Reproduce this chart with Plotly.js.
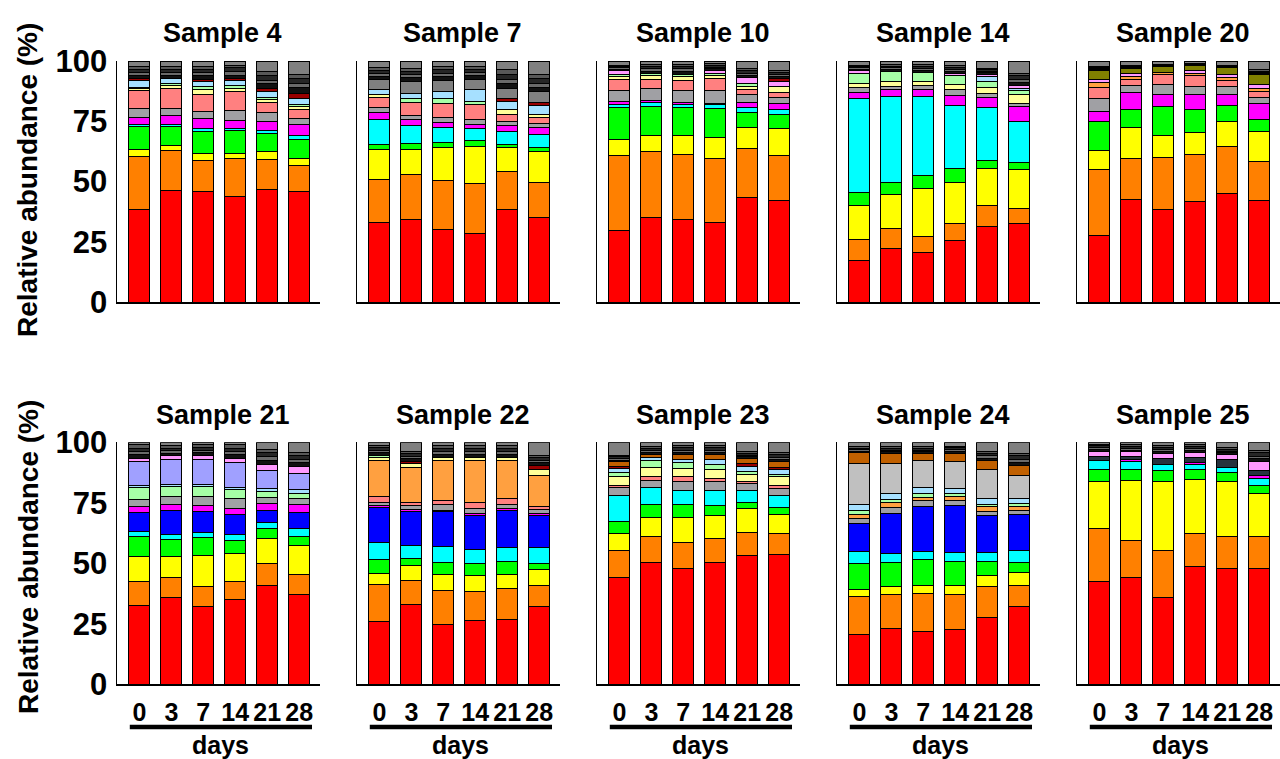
<!DOCTYPE html>
<html>
<head>
<meta charset="utf-8">
<script src="https://cdn.plot.ly/plotly-3.0.1.min.js"></script>
<style>html,body{margin:0;padding:0;background:#fff;}#chart{width:1280px;height:759px;}</style>
</head>
<body>
<div id="chart"></div>
<script>
// ---- categories ----
const days = ['0', '3', '7', '14', '21', '28'];
const samples = ['Sample 4', 'Sample 7', 'Sample 10', 'Sample 14', 'Sample 20',
                 'Sample 21', 'Sample 22', 'Sample 23', 'Sample 24', 'Sample 25'];

// ---- series values (% per bar; 6 days per sample, samples in order above) ----
const red = [38.4,46.3,45.9,43.8,46.8,45.9, 33.0,34.3,30.0,28.5,38.4,35.2, 29.6,35.1,34.4,33.1,43.5,42.3, 17.3,22.0,20.4,25.7,31.5,32.7, 27.5,42.4,38.3,41.6,44.9,42.3,
             32.6,36.0,32.1,35.1,41.0,36.9, 25.8,32.9,24.8,26.2,26.9,32.1, 44.1,50.3,47.9,50.3,53.3,53.7, 20.4,23.0,22.0,22.7,27.5,32.1, 42.3,44.1,35.8,48.6,47.9,47.9];
const orange = [22.1,16.4,12.9,15.7,12.5,10.7, 17.7,18.6,20.3,20.7,15.7,14.5, 31.0,27.3,26.6,26.6,20.0,18.5, 8.8,8.4,6.7,6.9,8.4,6.3, 27.3,17.0,21.6,19.4,19.6,16.0,
                9.8,8.2,8.3,7.3,9.0,8.6, 15.5,10.1,13.8,12.0,12.6,8.9, 11.3,10.6,10.6,9.9,9.6,8.6, 15.8,14.2,15.6,14.5,13.1,8.9, 22.2,15.5,19.6,13.8,13.1,13.1];
const yellow = [2.6,2.2,2.8,2.2,3.1,3.1, 12.6,10.5,13.8,15.2,10.0,12.7, 6.9,6.7,7.9,8.5,8.9,11.0, 14.0,14.1,19.9,17.1,15.6,16.1, 7.9,13.0,9.2,9.3,10.4,12.4,
                10.6,8.6,13.0,11.5,10.3,11.8, 4.6,6.2,6.9,6.6,6.0,6.5, 6.9,8.0,10.6,9.4,9.7,7.9, 2.8,3.2,3.3,3.8,4.2,5.1, 19.2,24.7,28.3,22.3,23.0,17.8];
const green = [9.7,7.9,9.3,9.4,7.6,7.8, 1.9,2.3,2.1,2.5,1.4,1.7, 13.2,12.0,11.9,12.2,6.3,6.1, 5.3,5.1,5.3,5.8,3.3,2.8, 12.2,7.3,12.0,9.7,6.6,5.1,
               8.0,7.1,7.2,5.7,4.2,3.7, 5.8,2.7,4.8,5.1,5.1,2.5, 4.8,5.2,5.0,4.4,2.7,2.8, 11.0,9.9,10.5,9.6,5.9,4.2, 5.1,4.5,4.5,3.9,3.5,3.2];
const cyan = [0.9,0.9,1.1,0.9,1.1,1.4, 10.6,7.4,6.2,4.9,5.2,5.5, 1.1,1.6,1.0,1.4,2.1,2.1, 39.1,35.6,32.9,26.0,22.0,17.0, 0,0,0,0,0,0,
              2.1,2.2,2.2,2.5,2.3,3.5, 6.8,5.5,6.6,5.9,5.9,6.5, 11.0,7.2,5.8,5.9,4.6,5.2, 4.7,3.8,3.4,3.8,3.7,4.8, 3.5,3.1,2.7,2.3,2.0,3.0];
const blue = [0,0,0,0,0,0, 0,0,0,0,0,0, 0,0,0,0,0,0, 0,0,0,0,0,0, 0,0,0,0,0,0,
              7.8,9.9,8.8,8.1,5.2,6.4, 14.5,14.2,14.3,13.8,15.5,13.1, 0,0,0,0,0,0, 11.8,16.6,18.5,19.3,15.2,15.1, 0,0,0,0,0,0];
const magenta = [3.0,3.8,4.0,3.3,3.8,4.6, 2.9,2.5,1.9,2.0,2.5,2.8, 1.3,1.0,0.9,0.7,1.9,2.2, 2.5,3.1,3.1,4.1,4.1,6.2, 4.1,7.2,5.1,5.9,4.7,6.7,
                 2.5,2.1,2.1,2.5,2.8,3.2, 0.7,0.7,0.8,1.0,0.6,1.1, 0,0,0,0,0,0, 0,0,0,0,0,0, 0,0.8,0,0.8,0,1.4];
const gray = [3.4,2.6,3.0,4.1,3.7,2.6, 2.1,1.7,2.2,2.0,1.9,1.8, 4.7,4.7,4.9,5.1,3.2,2.6, 1.9,1.1,1.5,2.4,1.7,1.4, 5.5,2.9,3.9,3.5,3.2,2.3,
              3.0,3.7,3.8,3.9,2.3,2.8, 1.6,1.4,2.1,2.0,1.8,1.6, 3.2,3.0,4.1,3.7,3.0,2.7, 2.0,2.3,2.5,2.3,2.0,1.8, 0,0,0,0,0,0];
const salmon = [7.5,8.6,6.9,7.9,4.1,3.6, 4.0,5.6,6.0,6.2,2.8,2.3, 4.6,4.1,4.5,5.2,2.1,2.2, 0,0,0,0,0,0, 4.6,2.7,4.4,4.5,2.7,2.5,
                0,0,0,0,0,0, 2.5,1.4,1.9,2.5,2.5,1.0, 0.9,1.4,1.7,1.4,0.8,1.1, 0,0,0,0,0,0, 0,0,0,0,0,0];
const lightOrange = [0,0,0,0,0,0, 0,0,0,0,0,0, 0,0,0,0,0,0, 0,0,0,0,0,0, 2.1,1.0,0.8,1.0,1.0,1.4,
                     0,0,0,0,0,0, 14.5,14.4,16.3,17.2,15.4,13.1, 0,0,0,0,0,0, 1.7,2.1,1.3,1.4,1.7,1.4, 0,0,0,0,0,0];
const lightYellow = [0.8,1.0,2.4,1.4,1.4,1.4, 1.1,0,0,0,1.8,1.4, 1.1,1.4,1.4,1.1,1.4,2.4, 1.8,2.0,1.9,2.3,2.5,3.4, 0,0,0,0,0,0,
                     0,0,0,0,0,0, 1.4,1.7,1.4,1.4,1.4,2.4, 3.6,3.8,3.4,3.8,2.8,3.8, 0,0,0,0,0,0, 0,0,0,0,0,0];
const lightGreen = [0.7,1.0,1.1,1.1,0.6,0.7, 0,1.6,2.0,1.4,0,0, 1.0,1.0,1.1,1.0,1.3,0, 4.2,4.2,3.6,3.6,2.6,1.7, 0,0,0,0,0,0,
                    5.0,3.9,4.2,4.0,2.5,2.0, 0.9,0,0,0,0,0, 1.7,2.8,2.5,2.1,1.4,1.0, 1.8,1.3,1.8,1.5,1.1,1.3, 0,0,0,0,0,0];
const lightBlue = [2.9,2.0,2.0,2.3,2.6,2.7, 2.1,2.1,2.8,4.6,3.4,3.6, 0,0,0,0,0,0, 0,0,0,0,1.8,1.1, 0,0,0,0,0,0,
                   0.7,0.7,0.7,0.7,1.4,1.4, 0,0,0,0,0,0, 1.8,1.4,1.4,2.1,2.3,2.0, 2.4,2.5,2.4,2.1,2.3,2.2, 0,0,0,0,0,0];
const slate = [0,0,0,0,0,0, 0,0,0,0,0,0, 0,0,0,0,0,0, 0,0,0,0,0,0, 0,0,0,0,0,0,
               0,0,0,0,0,0, 0,0,0,0,0,0, 0,0,0,0,0,0, 0,0,0,0,0,0, 1.8,1.4,2.3,1.9,3.2,1.8];
const lavender = [0,0,0,0,0,0, 0,0,0,0,0,0, 0,0,0,0,0,0, 0,0,0,0,0,0, 0,0,0,0,0,0,
                  9.8,10.3,10.3,10.3,7.3,6.9, 0,0,0,0,0,0, 0,0,0,0,0,0, 0,0,0,0,0,0, 0,0,0,0,0,0];
const pink = [0,0,0,0,0,0, 0,0,0,0,0,0, 1.4,0,0,1.0,2.4,2.3, 1.0,0,0,1.0,1.0,1.1, 1.0,1.4,0,1.0,1.4,1.6,
              1.5,1.7,1.7,1.8,2.6,3.0, 0,0,0,0,0,0, 0,0,0,0,0,0, 0,0,0,0,0,0, 2.3,1.9,2.1,2.1,2.3,3.7];
const silver = [0,0,0,0,0,0, 0,0,0,0,0,0, 0,0,0,0,0,0, 0,0,0,0,0,0, 0,0,0,0,0,0,
                0,0,0,0,0,0, 0,0,0,0,0,0, 0,0,0,0,0,0, 16.9,12.4,11.3,10.9,11.9,9.5, 0,0,0,0,0,0];
const darkRed = [0.7,0,1.0,0.5,1.4,2.1, 0,0,0,0,1.2,1.4, 0,0,0,0,0,1.1, 0,0,0,0,0,0, 0,0,0,0,0,0,
                 0,0,0,0,0,0, 0,0.7,0,0,0,1.7, 0.9,0,0,0,1.1,0.7, 0,0,0,0,0,0, 0,0,0,0,0,0];
const brown = [0,0,0,0,0,0, 0,0,0,0,0,0, 0,0,0,0,0,0, 0,0,0,0,0,0, 0,0,0,0,0,0,
               0,0,0,0,0,0, 0,0,0,0,0,0, 1.7,1.3,1.8,2.0,2.0,2.4, 4.4,4.2,2.9,3.4,3.7,4.1, 0,0,0,0,0,0];
const olive = [0,0,0,0,0,0, 0,0,0,0,0,0, 0,0,0,0,0,0, 0,0,0,0,0,0, 3.7,2.1,2.3,2.4,2.7,3.9,
               0,0,0,0,0,0, 0,0,0,0,0,0, 0,0,0,0,0,0, 0,0,0,0,0,0, 0,0,0,0,0,0];
const midGray = [0,0,0,0,0,0, 4.5,5.1,4.8,4.5,4.4,4.4, 0,0,0,0,0,0, 0,0,0,0,0,0, 0,0,0,0,0,0,
                 0,0,0,0,0,0, 0,0,0,0,0,0, 0,0,0,0,0,0, 0,0,0,0,0,0, 0,0,0,0,0,0];
const minor1 = [1.4,1.3,1.4,1.5,1.8,2.2, 1.2,1.4,1.5,1.4,2.0,1.9, 0.6,0.9,1.0,0.8,0.9,0.8, 0.6,0.8,0.8,0.9,0.7,1.4, 0.5,0.3,0.3,0.2,0.3,0.6,
                1.4,1.1,1.2,1.4,1.6,1.4, 1.1,1.2,1.3,1.3,1.3,1.1, 0.7,0.8,1.0,0.9,0.7,1.0, 0.6,0.7,0.7,0.8,1.1,1.3, 0.7,0.8,0.9,0.8,0.7,1.3];
const minor2 = [1.2,1.2,1.3,1.4,1.6,1.8, 1.1,1.2,1.3,1.2,1.7,1.6, 0.7,1.0,1.1,0.8,1.0,0.8, 0.6,0.7,0.9,0.8,0.6,1.2, 0.4,0.4,0.3,0.2,0.2,0.5,
                1.3,1.0,1.1,1.3,1.5,1.3, 1.0,1.1,1.2,1.2,1.2,1.0, 0.7,0.8,0.9,0.9,0.7,0.9, 0.6,0.6,0.6,0.8,1.0,1.2, 0.7,0.7,0.8,0.8,0.7,1.1];
const minor3 = [1.3,1.4,1.5,1.6,2.0,2.3, 1.3,1.5,1.6,1.5,2.2,2.1, 0.6,0.9,1.0,0.8,0.9,0.8, 0.7,0.8,0.8,0.9,0.7,1.4, 0.5,0.3,0.2,0.2,0.3,0.5,
                1.5,1.1,1.2,1.5,1.7,1.5, 1.1,1.2,1.4,1.4,1.4,1.1, 0.7,0.8,1.0,1.0,0.7,1.0, 0.7,0.7,0.7,0.8,1.1,1.4, 0.8,0.8,0.9,0.9,0.7,1.4];
const minor4 = [1.1,1.1,1.1,1.2,1.5,1.7, 1.1,1.2,1.2,1.1,1.7,1.6, 0.5,0.9,0.9,0.7,0.8,0.7, 0.5,0.7,0.8,0.8,0.5,1.1, 0.4,0.3,0.2,0.2,0.2,0.5,
                1.3,0.9,1.0,1.3,1.4,1.3, 1.0,1.0,1.2,1.2,1.2,0.9, 0.6,0.7,0.9,0.8,0.6,0.9, 0.5,0.6,0.6,0.7,0.9,1.1, 0.6,0.7,0.8,0.7,0.6,1.1];
const others = [2.3,2.3,2.3,1.7,4.4,5.4, 2.8,3.0,2.3,2.3,3.7,5.5, 1.7,1.4,1.4,1.0,3.3,4.1, 1.7,1.4,1.4,1.7,3.0,5.1, 2.3,1.7,1.4,0.9,1.8,3.7,
                1.1,1.5,1.1,1.1,2.9,4.3, 1.2,3.6,1.2,1.2,1.2,5.4, 5.4,1.9,1.4,1.4,4.0,4.3, 1.9,1.9,1.9,1.6,3.6,4.5, 0.8,1.0,1.3,1.1,2.3,3.2];

// ---- stack order and colours ----
const taxa = [
  ['red', red, '#ff0000'], ['orange', orange, '#ff8000'], ['yellow', yellow, '#ffff00'],
  ['green', green, '#00ff00'], ['cyan', cyan, '#00ffff'], ['blue', blue, '#0000ff'],
  ['magenta', magenta, '#ff00ff'], ['gray', gray, '#a0a0a4'], ['salmon', salmon, '#ff8080'],
  ['lightOrange', lightOrange, '#ffa040'], ['lightYellow', lightYellow, '#ffff99'],
  ['lightGreen', lightGreen, '#a6ffa6'], ['lightBlue', lightBlue, '#a6e0ff'],
  ['slate', slate, '#26323e'], ['lavender', lavender, '#a0a0ff'], ['pink', pink, '#ff99ff'],
  ['silver', silver, '#c0c0c0'], ['darkRed', darkRed, '#990000'], ['brown', brown, '#c06000'],
  ['olive', olive, '#808000'], ['midGray', midGray, '#808080'],
  ['minor1', minor1, '#111111'], ['minor2', minor2, '#6a6a6a'], ['minor3', minor3, '#262626'],
  ['minor4', minor4, '#585858'], ['others', others, '#808080']
];

const FONT = 'Liberation Sans, Arial, sans-serif';
const W = 1280, H = 759;
const xPos = days.map((d, i) => i);

const traces = [];
samples.forEach((s, p) => {
  const ax = p === 0 ? '' : String(p + 1);
  taxa.forEach(([name, arr, color]) => {
    traces.push({
      type: 'bar', name: name, x: xPos, y: arr.slice(p * 6, p * 6 + 6),
      xaxis: 'x' + ax, yaxis: 'y' + ax, width: 0.66,
      marker: {color: color, line: {color: '#000', width: 1}},
      showlegend: false, hoverinfo: 'skip'
    });
  });
});

const layout = {
  width: W, height: H, barmode: 'stack', showlegend: false,
  margin: {l: 0, r: 0, t: 0, b: 0},
  paper_bgcolor: '#fff', plot_bgcolor: 'rgba(0,0,0,0)',
  annotations: [], shapes: []
};

const rowY = [[(H - 302) / H, (H - 61) / H], [(H - 684.3) / H, (H - 442.3) / H]];
samples.forEach((s, p) => {
  const col = p % 5, row = Math.floor(p / 5);
  const ax = p === 0 ? '' : String(p + 1);
  layout['xaxis' + ax] = {
    domain: [(117 + 240 * col) / W, (320 + 240 * col) / W], anchor: 'y' + ax,
    range: [-0.7, 5.65], tickvals: xPos, ticktext: days, showticklabels: row === 1,
    tickfont: {family: FONT, size: 25, color: '#000', weight: 'bold'},
    ticks: '', ticklabelstandoff: 5,
    showline: true, linecolor: '#000', linewidth: 1.5, showgrid: false, zeroline: false, fixedrange: true
  };
  layout['yaxis' + ax] = {
    domain: rowY[row], anchor: 'x' + ax, range: [0, 100],
    tickvals: [0, 25, 50, 75, 100], showticklabels: col === 0,
    tickfont: {family: FONT, size: 31, color: '#000', weight: 'bold'},
    ticks: '', ticklabelstandoff: 2,
    showline: true, linecolor: '#000', linewidth: 1.5, showgrid: false, zeroline: false, fixedrange: true
  };
  layout.annotations.push({
    text: s, xref: 'x' + ax, yref: 'paper', x: 2.6,
    y: row === 0 ? (H - 33) / H : (H - 415) / H, yanchor: 'middle', xanchor: 'center', showarrow: false,
    font: {family: FONT, size: 27, color: '#000', weight: 'bold'}
  });
  if (row === 1) {
    layout.shapes.push({type: 'line', xref: 'x' + ax, yref: 'paper', x0: -0.3, x1: 5.4,
      y0: (H - 727) / H, y1: (H - 727) / H, line: {color: '#000', width: 4.5}});
    layout.annotations.push({
      text: 'days', xref: 'x' + ax, yref: 'paper', x: 2.55, y: (H - 745) / H,
      yanchor: 'middle', xanchor: 'center', showarrow: false,
      font: {family: FONT, size: 25, color: '#000', weight: 'bold'}
    });
  }
});
[180, 557].forEach(cy => {
  layout.annotations.push({
    text: 'Relative abundance (%)', xref: 'paper', yref: 'paper', x: 28 / W, y: (H - cy) / H,
    textangle: -90, xanchor: 'center', yanchor: 'middle', showarrow: false,
    font: {family: FONT, size: 28, color: '#000', weight: 'bold'}
  });
});

Plotly.newPlot('chart', traces, layout, {displayModeBar: false, staticPlot: true});
</script>
</body>
</html>
